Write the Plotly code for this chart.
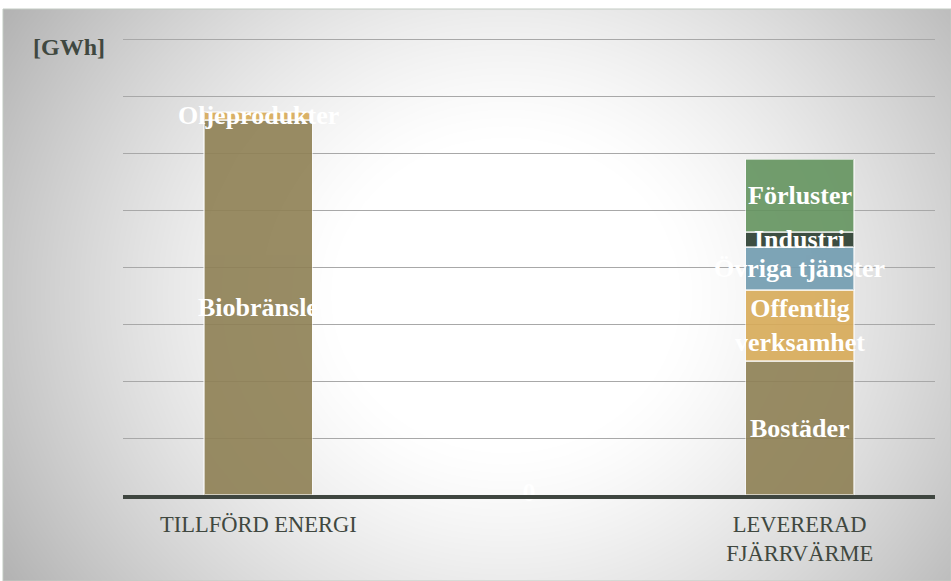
import numpy as np
import plotly.graph_objects as go

# Categories on the x axis (the middle slot is an empty spacer)
categories = ["TILLFÖRD ENERGI", "spacer", "LEVERERAD FJÄRRVÄRME"]
tick_labels = ["TILLFÖRD ENERGI", "", "LEVERERAD<br>FJÄRRVÄRME"]

# Supplied energy [GWh]
supply_labels = ["Biobränsle", "Oljeprodukter"]
supply_values = [65.8, 1.4]

# Delivered district heating [GWh]
delivery_labels = ["Bostäder", "Offentlig<br>verksamhet", "Övriga tjänster", "Industri", "Förluster"]
delivery_values = [23.5, 12.5, 7.5, 2.6, 12.8]

spacer_value = [0]

supply_colors = ["#8E8054", "#D8AB58"]
delivery_colors = ["#8E8054", "#D8AB58", "#719CB0", "#2A3D2F", "#64945F"]

W, H = 951, 581
FRAME_L, FRAME_T = 3, 9
Y_MAX = 81
PX_PER_UNIT = 5.7
PLOT_L, PLOT_R, PLOT_B = 123, 935, 495
PLOT_T = PLOT_B - Y_MAX * PX_PER_UNIT

fig = go.Figure()

# Soft radial background shading: white centre, grey toward the frame edges
gx = np.linspace(0, 1, 90)
gy = np.linspace(0, 1, 60)
XX, YY = np.meshgrid(gx, gy)
d = np.sqrt(((XX - 0.53) / 0.5) ** 2 + ((YY - 0.5) / 0.75) ** 2)
shade = 255 - 88 * np.clip(d - 0.35, 0, 1.0) ** 1.3
fig.add_trace(go.Heatmap(
    x=gx, y=gy, z=shade, zmin=0, zmax=255, zsmooth="best",
    colorscale=[[0, "rgb(0,0,0)"], [1, "rgb(255,255,255)"]],
    showscale=False, hoverinfo="skip", xaxis="x", yaxis="y",
))

FONT_LABEL = "Liberation Serif"
annotations = []


def add_stack(cat, labels, values, colors):
    base = 0.0
    for lab, val, col in zip(labels, values, colors):
        fig.add_trace(go.Bar(
            x=[cat], y=[val], name=lab.replace("<br>", " "),
            marker=dict(color=col, opacity=0.9,
                        line=dict(color="rgba(255,255,255,0.6)", width=1.5)),
            xaxis="x2", yaxis="y2", hoverinfo="skip",
        ))
        annotations.append(dict(
            x=cat, y=base + val / 2, xref="x2", yref="y2", text=lab,
            showarrow=False, xanchor="center", yanchor="middle",
            font=dict(family=FONT_LABEL, size=26, color="white", weight="bold"),
        ))
        base += val


add_stack(categories[0], supply_labels, supply_values, supply_colors)
add_stack(categories[2], delivery_labels, delivery_values, delivery_colors)

# Zero-valued spacer category label
fig.add_trace(go.Scatter(
    x=[categories[1]], y=spacer_value, mode="text", text=[str(v) for v in spacer_value],
    textposition="middle center",
    textfont=dict(family=FONT_LABEL, size=26, color="white", weight="bold"),
    xaxis="x2", yaxis="y2", hoverinfo="skip", cliponaxis=False,
))

annotations.append(dict(
    x=31 / W, y=1 - 47 / H, xref="paper", yref="paper", text="[GWh]",
    showarrow=False, xanchor="left", yanchor="middle",
    font=dict(family=FONT_LABEL, size=24, color="#404840", weight="bold"),
))

fig.update_layout(
    width=W, height=H,
    margin=dict(l=0, r=0, t=0, b=0),
    paper_bgcolor="white",
    plot_bgcolor="rgba(0,0,0,0)",
    barmode="stack",
    bargap=0.6,
    showlegend=False,
    annotations=annotations,
    xaxis=dict(domain=[FRAME_L / W, 1], range=[0, 1], visible=False, fixedrange=True),
    yaxis=dict(domain=[0, 1 - FRAME_T / H], range=[0, 1], visible=False, fixedrange=True),
    xaxis2=dict(
        domain=[PLOT_L / W, PLOT_R / W], anchor="y2",
        type="category", categoryorder="array", categoryarray=categories,
        tickvals=categories, ticktext=tick_labels,
        showgrid=False, zeroline=False,
        showline=True, linecolor="#3F4640", linewidth=4,
        ticks="", ticklabelstandoff=6,
        tickfont=dict(family=FONT_LABEL, size=22.5, color="#404840"),
    ),
    yaxis2=dict(
        domain=[1 - PLOT_B / H, 1 - PLOT_T / H], anchor="x2",
        range=[0, Y_MAX], tick0=0, dtick=10, showticklabels=False, ticks="",
        showgrid=True, gridcolor="#A8A8A8", gridwidth=1.3,
        zeroline=False, showline=False,
    ),
    shapes=[dict(
        type="rect", xref="paper", yref="paper",
        x0=FRAME_L / W, x1=1, y0=0, y1=1 - FRAME_T / H,
        line=dict(color="#C2CAC2", width=1), fillcolor="rgba(0,0,0,0)", layer="above",
    )],
)

fig.write_html("out.html")
